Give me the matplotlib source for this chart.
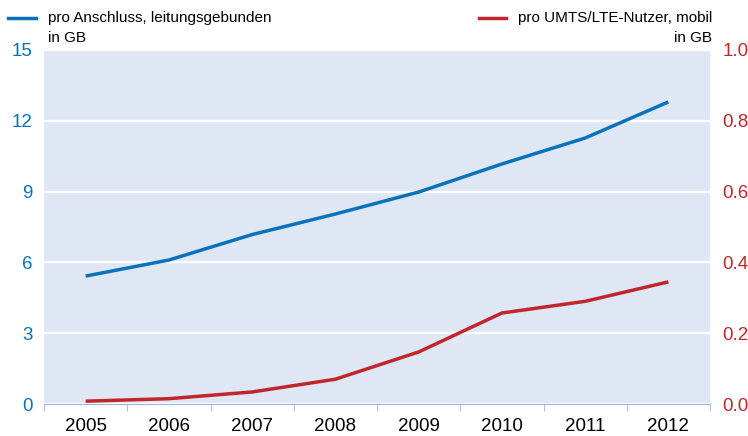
import matplotlib.pyplot as plt

plt.rcParams['font.family'] = ['Liberation Sans', 'DejaVu Sans']

years = ['2005', '2006', '2007', '2008', '2009', '2010', '2011', '2012']
fixed_gb = [5.42, 6.1, 7.18, 8.05, 8.98, 10.17, 11.27, 12.8]
mobile_gb = [0.008, 0.015, 0.034, 0.07, 0.147, 0.257, 0.29, 0.345]

blue = '#0a72bb'
red = '#c0272d'
bg = '#e0e7f4'

fig = plt.figure(figsize=(7.48, 4.36), dpi=100)
ax = fig.add_axes([44 / 748, 32 / 436, 666 / 748, 354 / 436])
ax.set_facecolor(bg)
x = list(range(len(years)))
ax.plot(x, fixed_gb, color=blue, lw=2.5, solid_capstyle='butt')
ax.set_xlim(-0.5, len(years) - 0.5)
ax.set_ylim(0, 15)
ax.set_yticks([0, 3, 6, 9, 12, 15])
ax.yaxis.grid(True, color='white', lw=1.6)
ax.set_axisbelow(True)
for s in ['top', 'right', 'left']:
    ax.spines[s].set_visible(False)
ax.spines['bottom'].set_color('#9db4dc')
ax.tick_params(axis='y', length=0, labelcolor=blue, labelsize=13.5, pad=8)
ax.set_xticks(x)
ax.set_xticklabels(years)
ax.set_xticks([i - 0.5 for i in range(len(years) + 1)], minor=True)
ax.tick_params(axis='x', which='major', length=0, labelsize=13.5, pad=10)
ax.tick_params(axis='x', which='minor', length=5, color='#9db4dc')

ax2 = ax.twinx()
ax2.plot(x, mobile_gb, color=red, lw=2.5, solid_capstyle='butt')
ax2.set_ylim(0, 1.0)
ax2.set_yticks([0, 0.2, 0.4, 0.6, 0.8, 1.0])
ax2.set_yticklabels(['0.0', '0.2', '0.4', '0.6', '0.8', '1.0'])
for s in ax2.spines.values():
    s.set_visible(False)
ax2.tick_params(axis='y', length=0, labelcolor=red, labelsize=13.5, pad=9)

# legend entries
fig.add_artist(plt.Line2D([8 / 748, 36 / 748], [1 - 18 / 436] * 2, color=blue, lw=2.5))
fig.text(48 / 748, 1 - 11 / 436, 'pro Anschluss, leitungsgebunden\nin GB', fontsize=11,
         va='top', ha='left', linespacing=1.55, transform=fig.transFigure)
fig.add_artist(plt.Line2D([479 / 748, 506 / 748], [1 - 18 / 436] * 2, color=red, lw=2.5))
fig.text(712 / 748, 1 - 11 / 436, 'pro UMTS/LTE-Nutzer, mobil\nin GB', fontsize=11,
         va='top', ha='right', multialignment='right', linespacing=1.55, transform=fig.transFigure)

fig.savefig('out.png', dpi=100)
